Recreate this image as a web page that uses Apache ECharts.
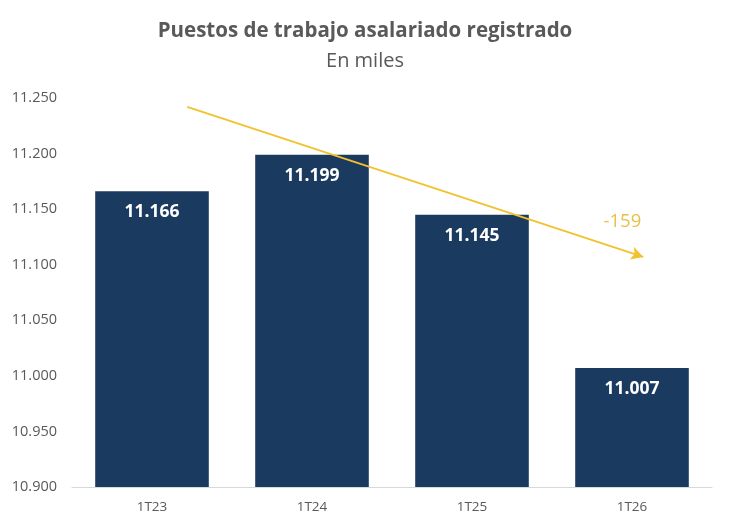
<!DOCTYPE html>
<html><head><meta charset="utf-8">
<script src="https://cdn.jsdelivr.net/npm/echarts@6/dist/echarts.min.js"></script>
<style>html,body{margin:0;padding:0;background:#fff}#c{width:730px;height:529px}</style>
</head><body><div id="c"></div>
<script>
const categories = ['1T23', '1T24', '1T25', '1T26'];
const values = [11166, 11199, 11145, 11007];
const yTicks = [10900, 10950, 11000, 11050, 11100, 11150, 11200, 11250];
const trendStart = [0.22, 11242];
const trendEnd = [3.07, 11107];
const trendLabelAt = [2.94, 11139];
const change = values[values.length - 1] - values[0];

function fmt(n) {
  const s = Math.round(Math.abs(n)).toString().replace(/\B(?=(\d{3})+(?!\d))/g, '.');
  return (n < 0 ? '-' : '') + s;
}
const font = '"Open Sans", sans-serif';
const chart = echarts.init(document.getElementById('c'));
chart.setOption({
  animation: false,
  title: [
    { text: 'Puestos de trabajo asalariado registrado', left: 'center', top: 16,
      textStyle: { fontFamily: font, fontSize: 20.5, fontWeight: 'bold', color: '#595959' } },
    { text: 'En miles', left: 'center', top: 46,
      textStyle: { fontFamily: font, fontSize: 20, fontWeight: 'normal', color: '#595959' } }
  ],
  grid: { left: 72, right: 18, top: 98, bottom: 42, containLabel: false },
  xAxis: [
    { type: 'category', data: categories,
      axisLine: { lineStyle: { color: '#D9D9D9', width: 1 } },
      axisTick: { show: false },
      axisLabel: { fontFamily: font, fontSize: 13.5, color: '#595959', margin: 13 } },
    { type: 'value', min: -0.5, max: 3.5, show: false }
  ],
  yAxis: {
    type: 'value', min: yTicks[0], max: yTicks[yTicks.length - 1], interval: 50,
    axisLine: { show: false }, axisTick: { show: false }, splitLine: { show: false },
    axisLabel: { fontFamily: font, fontSize: 14.5, color: '#595959', margin: 15,
      formatter: v => fmt(v) }
  },
  series: [
    { type: 'bar', data: values, barWidth: '71%',
      itemStyle: { color: '#1B3A5F' },
      label: { show: true, position: 'insideTop', distance: 12, color: '#fff',
        fontFamily: font, fontSize: 17.5, fontWeight: 'bold', formatter: p => fmt(p.value) } },
    { type: 'line', xAxisIndex: 1, data: [], silent: true,
      markLine: { silent: true, symbol: ['none', 'arrow'], symbolSize: [10, 12],
        lineStyle: { color: '#F2C22E', width: 1.8, type: 'solid' },
        label: { show: false },
        data: [[{ coord: trendStart }, { coord: trendEnd }]] },
      markPoint: { silent: true, symbol: 'circle', symbolSize: 0,
        label: { show: true, position: 'inside', color: '#E8C04A', fontFamily: font, fontSize: 18.5,
          formatter: () => fmt(change) },
        data: [{ coord: trendLabelAt }] } }
  ]
});
</script></body></html>
